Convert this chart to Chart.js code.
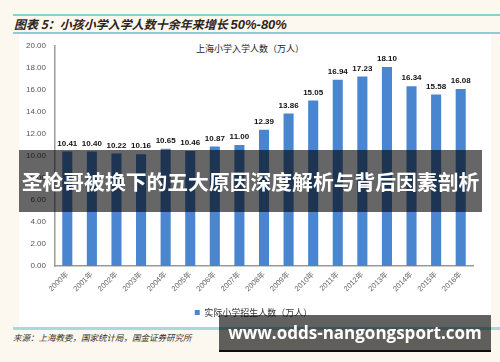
<!DOCTYPE html>
<html lang="zh">
<head>
    <meta charset="UTF-8">
    <title>上海小学入学人数</title>
    <script src="https://cdn.jsdelivr.net/npm/chart.js"></script>
    <style>
        body { margin: 0; background: #fcf8ef; }
        #wrap { position: relative; width: 500px; height: 362px; overflow: hidden; font-family: "Noto Sans CJK SC", sans-serif; }
        .abs { position: absolute; }
        #panel { left: 19px; top: 34px; width: 472px; height: 293px; background: #fff; }
        .rule { left: 13px; right: 0; height: 2px; background: #8ccfd2; }
        #head { left: 14px; top: 15px; font-size: 12px; line-height: 18px; font-weight: bold; font-style: italic; color: #2e241b; white-space: nowrap; }
        #head b { font-family: Arial, "Liberation Sans", sans-serif; font-size: 13px; }
        #ctitle { left: 0; width: 500px; top: 42px; text-align: center; font-size: 9px; color: #222; }
        #src { left: 13px; top: 331px; font-size: 8.5px; font-style: italic; color: #3a2f25; white-space: nowrap; }
        canvas { position: absolute; left: 0; top: 0; }
        #banner { left: 19px; top: 150px; width: 463px; height: 62px; background: rgba(0,0,0,0.6); color: #fff; font-weight: bold; font-size: 20.8px; line-height: 62px; text-align: center; white-space: nowrap; z-index: 5; }
        #mark { left: 219px; top: 315px; width: 272px; height: 35px; background: rgba(0,0,0,0.62); border-bottom: 2px solid rgba(0,0,0,0.85); color: #fff; font-family: "Open Sans", sans-serif; font-weight: bold; font-size: 17px; line-height: 35px; text-align: center; white-space: nowrap; z-index: 5; }
    </style>
</head>
<body>
<div id="wrap">
    <div class="abs" id="panel"></div>
    <div class="abs rule" style="top:14px"></div>
    <div class="abs rule" style="top:32px"></div>
    <div class="abs rule" style="top:327px; height:2.5px; background:#a6dadb"></div>
    <div class="abs" id="head">图表 5：小孩小学入学人数十余年来增长 <b>50%-80%</b></div>
    <div class="abs" id="ctitle">上海小学入学人数（万人）</div>
    <div class="abs" id="src">来源：上海教委，国家统计局，国金证券研究所</div>
    <canvas id="enrolChart" width="500" height="362"></canvas>
    <div class="abs" id="banner">圣枪哥被换下的五大原因深度解析与背后因素剖析</div>
    <div class="abs" id="mark">www.odds-nangongsport.com</div>
</div>

<script>
    // 数据
    const years = ['2000年', '2001年', '2002年', '2003年', '2004年', '2005年', '2006年', '2007年', '2008年',
        '2009年', '2010年', '2011年', '2012年', '2013年', '2014年', '2015年', '2016年'];
    const enrolment = [10.41, 10.40, 10.22, 10.16, 10.65, 10.46, 10.87, 11.00, 12.39,
        13.86, 15.05, 16.94, 17.23, 18.10, 16.34, 15.58, 16.08];
    const seriesName = '实际小学招生人数（万人）';
    const yMax = 20;
    const yStep = 2;

    // 柱顶数值
    const valueLabels = {
        id: 'valueLabels',
        afterDatasetsDraw(chart) {
            const ctx = chart.ctx;
            const meta = chart.getDatasetMeta(0);
            ctx.save();
            ctx.font = 'bold 8px Arial, "Liberation Sans", sans-serif';
            ctx.fillStyle = '#111';
            ctx.textAlign = 'center';
            ctx.textBaseline = 'bottom';
            meta.data.forEach((bar, i) => {
                ctx.fillText(enrolment[i].toFixed(2), bar.x, bar.y - 4);
            });
            ctx.restore();
        }
    };

    // 图例稍微右移，与原图对齐
    const legendShift = {
        id: 'legendShift',
        afterLayout(chart) {
            if (chart.legend) {
                chart.legend.left += 6;
                chart.legend.right += 6;
            }
        }
    };

    const ctx = document.getElementById('enrolChart').getContext('2d');
    new Chart(ctx, {
        type: 'bar',
        data: {
            labels: years,
            datasets: [{
                label: seriesName,
                data: enrolment,
                backgroundColor: '#4a86cf',
                categoryPercentage: 1,
                barPercentage: 0.41
            }]
        },
        options: {
            responsive: false,
            animation: false,
            layout: { padding: { left: 22, right: 27, top: 46, bottom: 35 } },
            plugins: {
                tooltip: { enabled: false },
                legend: {
                    position: 'bottom',
                    labels: {
                        boxWidth: 5,
                        boxHeight: 5,
                        padding: 4,
                        color: '#333',
                        font: { size: 9, family: '"Noto Sans CJK SC", sans-serif' }
                    }
                }
            },
            scales: {
                x: {
                    grid: { display: false, drawTicks: false },
                    border: { color: '#9a9a9a', width: 1.5 },
                    ticks: {
                        autoSkip: false,
                        minRotation: 45,
                        maxRotation: 45,
                        padding: 4,
                        color: '#666',
                        font: { size: 7.5, family: 'Arial, "Liberation Sans", "Noto Sans CJK SC", sans-serif' }
                    },
                    afterFit(scale) { scale.height = 38; }
                },
                y: {
                    min: 0,
                    max: yMax,
                    grid: { display: false, drawTicks: false },
                    border: { color: '#9a9a9a', width: 1.5 },
                    ticks: {
                        stepSize: yStep,
                        padding: 9,
                        color: '#555',
                        font: { size: 8, family: 'Arial, "Liberation Sans", sans-serif' },
                        callback: v => v.toFixed(2)
                    },
                    afterFit(scale) { scale.width = 33; }
                }
            }
        },
        plugins: [valueLabels, legendShift]
    });
</script>
</body>
</html>
